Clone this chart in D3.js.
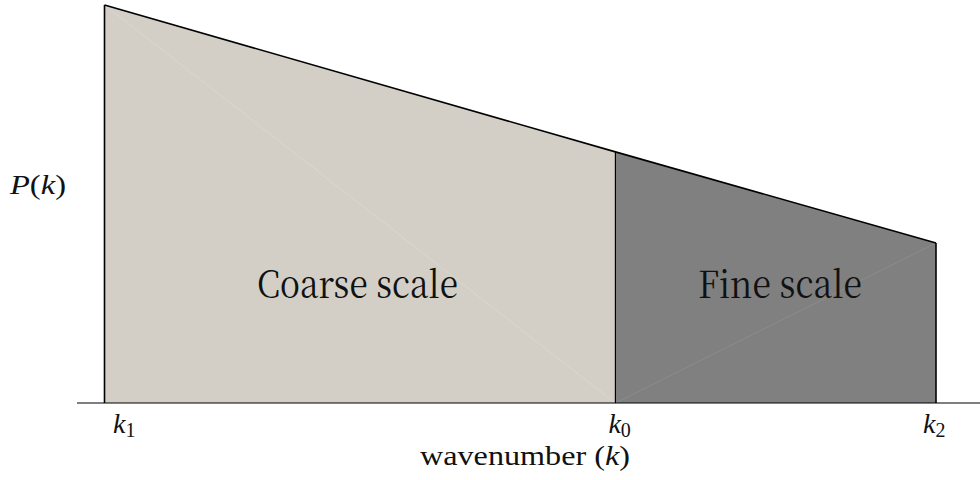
<!DOCTYPE html>
<html><head><meta charset="utf-8">
<script src="https://cdn.jsdelivr.net/npm/d3@7"></script>
</head><body style="margin:0;background:#fff"><svg id="c" width="980" height="480" style="display:block"></svg>
<script>
const kSub = ["1","0","2"];
const kValues = [1, 6.53, 10];
const pValues = [10, 6.31, 4.02];
const regionLabels = ["Coarse scale","Fine scale"];
const regionColors = ["#d3cfc7","#808080"];

const FONT = "Liberation Serif";
const BIGFONT = "Noto Serif CJK SC";
const svg = d3.select("#c");
const x = d3.scaleLinear().domain([1,10]).range([104.5,936]);
const y = d3.scaleLinear().domain([0,10]).range([403,5]);

const labelWidths = [201, 164];
const regions = [[0,1],[1,2]];
regions.forEach(([a,b],i)=>{
  const pts = [[kValues[a],0],[kValues[a],pValues[a]],[kValues[b],pValues[b]],[kValues[b],0]];
  svg.append("path").attr("d", d3.line().x(d=>x(d[0])).y(d=>y(d[1]))(pts)+"Z")
    .attr("fill",regionColors[i]).attr("stroke","none");
  const seam = i===0 ? [[kValues[a],pValues[a]],[kValues[b],0]] : [[kValues[a],0],[kValues[b],pValues[b]]];
  svg.append("line").attr("x1",x(seam[0][0])).attr("y1",y(seam[0][1])).attr("x2",x(seam[1][0])).attr("y2",y(seam[1][1]))
    .attr("stroke", i===0?"#dcd9d2":"#8e8e8e").attr("stroke-width",0.8);
  const x0 = i===0 ? 257 : 698;
  svg.append("text").attr("x",x0).attr("y",298)
    .attr("font-family",BIGFONT).attr("font-size",38).attr("fill","#111")
    .attr("textLength",labelWidths[i]).attr("lengthAdjust","spacingAndGlyphs").text(regionLabels[i]);
});
const outline = kValues.map((k,i)=>[k,pValues[i]]);
svg.append("path").attr("d", d3.line().x(d=>x(d[0])).y(d=>y(d[1]))(outline)).attr("fill","none").attr("stroke","#000").attr("stroke-width",1.6);
kValues.forEach((k,i)=>{
  svg.append("line").attr("x1",x(k)).attr("x2",x(k)).attr("y1",y(0)).attr("y2",y(pValues[i]))
    .attr("stroke","#000").attr("stroke-width",i===1?1.2:1.6);
});
svg.append("line").attr("x1",77).attr("x2",980).attr("y1",y(0)).attr("y2",y(0)).attr("stroke","#000").attr("stroke-width",1.2);

const labelOffsets = [8.5, -7, -13];
kValues.forEach((k,i)=>{
  const t = svg.append("text").attr("x",x(k)+labelOffsets[i]).attr("y",433).attr("font-size",28)
    .attr("font-family",FONT).attr("fill","#111");
  t.append("tspan").attr("font-style","italic").text("k");
  t.append("tspan").attr("font-size",20).attr("dy",4).text(kSub[i]);
});
const xt = svg.append("text").attr("x",420).attr("y",465).attr("font-size",27)
  .attr("font-family",FONT).attr("fill","#111").attr("textLength",210).attr("lengthAdjust","spacingAndGlyphs");
xt.append("tspan").text("wavenumber (");
xt.append("tspan").attr("font-style","italic").text("k");
xt.append("tspan").text(")");
const yt = svg.append("text").attr("x",10).attr("y",194).attr("font-size",28).attr("font-family",FONT).attr("fill","#111")
  .attr("textLength",56).attr("lengthAdjust","spacingAndGlyphs");
yt.append("tspan").attr("font-style","italic").text("P");
yt.append("tspan").text("(");
yt.append("tspan").attr("font-style","italic").text("k");
yt.append("tspan").text(")");
</script></body></html>
